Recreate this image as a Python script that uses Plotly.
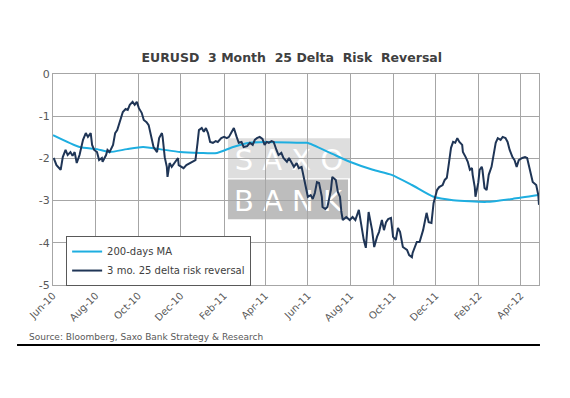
import plotly.graph_objects as go

# 3 mo. 25 delta risk reversal
rr_dates = [
    "2010-06-02", "2010-06-06", "2010-06-12", "2010-06-15", "2010-06-19", "2010-06-22", "2010-06-26", "2010-06-29",
    "2010-07-02", "2010-07-05", "2010-07-09", "2010-07-14", "2010-07-18", "2010-07-21", "2010-07-25", "2010-07-27",
    "2010-07-30", "2010-08-03", "2010-08-06", "2010-08-10", "2010-08-11", "2010-08-16", "2010-08-18", "2010-08-21",
    "2010-08-26", "2010-08-29", "2010-09-01", "2010-09-05", "2010-09-09", "2010-09-13", "2010-09-16", "2010-09-19",
    "2010-09-23", "2010-09-26", "2010-09-29", "2010-10-02", "2010-10-06", "2010-10-09", "2010-10-13", "2010-10-16",
    "2010-10-20", "2010-10-23", "2010-10-28", "2010-10-31", "2010-11-04", "2010-11-05", "2010-11-08", "2010-11-11",
    "2010-11-12", "2010-11-15", "2010-11-18", "2010-11-22", "2010-11-27", "2010-11-28", "2010-12-02", "2010-12-05",
    "2010-12-09", "2010-12-14", "2010-12-18", "2010-12-22", "2010-12-25", "2010-12-27", "2010-12-31", "2011-01-03",
    "2011-01-06", "2011-01-09", "2011-01-12", "2011-01-16", "2011-01-20", "2011-01-23", "2011-01-28", "2011-02-01",
    "2011-02-05", "2011-02-08", "2011-02-12", "2011-02-15", "2011-02-19", "2011-02-22", "2011-02-26", "2011-03-01",
    "2011-03-06", "2011-03-10", "2011-03-14", "2011-03-17", "2011-03-20", "2011-03-24", "2011-03-28", "2011-03-31",
    "2011-04-03", "2011-04-06", "2011-04-10", "2011-04-13", "2011-04-17", "2011-04-20", "2011-04-24", "2011-04-27",
    "2011-05-02", "2011-05-05", "2011-05-09", "2011-05-12", "2011-05-16", "2011-05-19", "2011-05-23", "2011-05-26",
    "2011-05-29", "2011-06-01", "2011-06-05", "2011-06-08", "2011-06-11", "2011-06-14", "2011-06-17", "2011-06-21",
    "2011-06-22", "2011-06-26", "2011-06-29", "2011-07-04", "2011-07-06", "2011-07-11", "2011-07-14", "2011-07-17",
    "2011-07-19", "2011-07-21", "2011-07-26", "2011-07-31", "2011-08-04", "2011-08-08", "2011-08-13", "2011-08-17",
    "2011-08-20", "2011-08-23", "2011-08-24", "2011-08-27", "2011-09-01", "2011-09-04", "2011-09-08", "2011-09-11",
    "2011-09-15", "2011-09-18", "2011-09-21", "2011-09-24", "2011-09-28", "2011-10-01", "2011-10-05", "2011-10-08",
    "2011-10-11", "2011-10-15", "2011-10-21", "2011-10-24", "2011-10-28", "2011-10-29", "2011-11-04", "2011-11-08",
    "2011-11-13", "2011-11-18", "2011-11-21", "2011-11-25", "2011-11-28", "2011-12-03", "2011-12-06", "2011-12-11",
    "2011-12-14", "2011-12-17", "2011-12-20", "2011-12-23", "2011-12-26", "2011-12-29", "2012-01-01", "2012-01-04",
    "2012-01-08", "2012-01-09", "2012-01-13", "2012-01-16", "2012-01-19", "2012-01-22", "2012-01-23", "2012-01-26",
    "2012-01-27", "2012-01-31", "2012-02-02", "2012-02-05", "2012-02-06", "2012-02-09", "2012-02-12", "2012-02-15",
    "2012-02-19", "2012-02-22", "2012-02-25", "2012-02-28", "2012-03-03", "2012-03-06", "2012-03-10", "2012-03-13",
    "2012-03-16", "2012-03-20", "2012-03-23", "2012-03-26", "2012-03-29", "2012-04-03", "2012-04-07", "2012-04-10",
    "2012-04-13", "2012-04-17", "2012-04-18", "2012-04-23", "2012-04-26", "2012-04-27",
]
rr_values = [
    -1.99, -2.16, -2.27, -1.97, -1.80, -1.92, -1.85, -1.94,
    -1.85, -2.11, -1.92, -1.56, -1.40, -1.49, -1.40, -1.68,
    -1.80, -1.85, -2.04, -1.99, -2.08, -1.92, -1.80, -1.85,
    -1.68, -1.40, -1.33, -1.09, -0.90, -0.83, -0.85, -0.73,
    -0.66, -0.73, -0.66, -0.81, -0.92, -1.09, -1.14, -1.21,
    -1.49, -1.73, -1.85, -1.52, -1.40, -1.49, -1.97, -2.20,
    -2.44, -2.11, -2.20, -2.11, -1.99, -2.16, -2.20, -2.23,
    -2.16, -2.11, -2.08, -2.04, -1.63, -1.33, -1.28, -1.37,
    -1.28, -1.40, -1.61, -1.63, -1.59, -1.61, -1.52, -1.49,
    -1.52, -1.49, -1.37, -1.28, -1.49, -1.63, -1.61, -1.73,
    -1.71, -1.63, -1.68, -1.56, -1.52, -1.49, -1.54, -1.68,
    -1.61, -1.63, -1.59, -1.61, -1.80, -1.92, -1.87, -1.99,
    -2.08, -1.99, -2.11, -2.20, -2.11, -2.23, -2.20, -2.44,
    -2.75, -2.91, -2.87, -2.96, -2.82, -2.56, -2.58, -2.91,
    -3.15, -3.20, -3.15, -2.75, -2.44, -2.51, -2.80, -2.91,
    -3.27, -3.46, -3.39, -3.46, -3.39, -3.46, -3.22, -3.63,
    -3.93, -4.12, -3.89, -3.27, -3.70, -4.10, -3.86, -3.74,
    -3.46, -3.70, -3.51, -3.44, -3.41, -3.86, -3.93, -3.65,
    -3.74, -4.10, -4.17, -4.29, -4.34, -4.24, -3.98, -3.98,
    -3.70, -3.29, -3.51, -3.53, -3.06, -2.75, -2.68, -2.63,
    -2.51, -2.46, -2.11, -1.75, -1.61, -1.63, -1.52, -1.61,
    -1.68, -1.85, -1.97, -2.08, -2.27, -2.23, -2.39, -2.68,
    -2.91, -2.58, -2.27, -2.20, -2.27, -2.70, -2.75, -2.39,
    -2.20, -1.87, -1.63, -1.52, -1.56, -1.49, -1.52, -1.61,
    -1.80, -1.97, -2.04, -2.20, -2.04, -1.99, -1.97, -1.99,
    -2.20, -2.46, -2.56, -2.63, -2.87, -3.10,
]

# 200-days MA
ma_dates = [
    "2010-06-01", "2010-07-09", "2010-08-03", "2010-08-21", "2010-09-15", "2010-10-08", "2010-11-01",
    "2010-11-30", "2010-12-29", "2011-01-22", "2011-02-14", "2011-03-10", "2011-04-03", "2011-05-21",
    "2011-05-31", "2011-07-03", "2011-07-31", "2011-09-02", "2011-09-29", "2011-10-28", "2011-11-28",
    "2011-12-26", "2012-02-12", "2012-03-20", "2012-04-26",
]
ma_values = [
    -1.45, -1.73, -1.78, -1.85, -1.78, -1.73, -1.78,
    -1.85, -1.87, -1.87, -1.73, -1.63, -1.61, -1.63,
    -1.63, -1.87, -2.08, -2.27, -2.39, -2.63, -2.91,
    -2.99, -3.03, -2.96, -2.87,
]

y_tick_vals = [0, -1, -2, -3, -4, -5]
y_tick_text = ["0", "-1", "-2", "-3", "-4", "-5"]

title_text = "EURUSD  3 Month  25 Delta  Risk  Reversal"
source_text = "Source: Bloomberg, Saxo Bank Strategy & Research"

grid_col = "#a6a6a6"
txt_col = "#595959"

fig = go.Figure()
fig.add_trace(go.Scatter(
    x=ma_dates, y=ma_values, mode="lines", name="200-days MA",
    line=dict(color="#1eaee0", width=2, shape="spline", smoothing=0.6),
))
fig.add_trace(go.Scatter(
    x=rr_dates, y=rr_values, mode="lines", name="3 mo. 25 delta risk reversal",
    line=dict(color="#1f3556", width=2),
))

# watermark boxes
fig.add_shape(type="rect", xref="paper", yref="y", x0=0.36, x1=0.611, y0=-2.47, y1=-1.52,
              fillcolor="#dedede", line_width=0, layer="between",
              label=dict(text="S A X O", font=dict(size=29, color="white", family="DejaVu Sans")))
fig.add_shape(type="rect", xref="paper", yref="y", x0=0.36, x1=0.607, y0=-3.44, y1=-2.50,
              fillcolor="#bdbdbd", line_width=0, layer="between",
              label=dict(text="B A N K", font=dict(size=29, color="white", family="DejaVu Sans")))

# bottom rule
fig.add_shape(type="line", xref="paper", yref="paper", x0=-0.074, x1=1.002, y0=-0.284, y1=-0.284,
              line=dict(color="black", width=2))

fig.add_annotation(text=source_text, xref="paper", yref="paper", x=-0.0535, y=-0.246,
                   xanchor="left", yanchor="middle", showarrow=False,
                   font=dict(size=9, color=txt_col, family="DejaVu Sans"))

fig.update_layout(
    width=562, height=390,
    margin=dict(l=45, r=31, t=66, b=113),
    paper_bgcolor="white", plot_bgcolor="white",
    title=dict(text="<b>" + title_text + "</b>", x=0.505, xanchor="center", y=0.872, yanchor="middle",
               font=dict(size=12.5, color="#404040", family="DejaVu Sans")),
    font=dict(family="DejaVu Sans", color=txt_col),
    showlegend=True,
    legend=dict(x=0.027, y=0.232, xanchor="left", yanchor="top",
                bordercolor="#595959", borderwidth=1, bgcolor="white",
                font=dict(size=10, color="#404040"), tracegroupgap=0, itemwidth=30),
    xaxis=dict(
        type="date", range=["2010-06-01", "2012-04-27"],
        tick0="2010-06-01", dtick="M2", tickformat="%b-%y", tickangle=-45,
        showgrid=True, gridcolor=grid_col, gridwidth=1,
        showline=True, linecolor=grid_col, mirror=True, ticks="",
        tickfont=dict(size=10, color=txt_col), zeroline=False,
    ),
    yaxis=dict(
        range=[-5, 0], tickmode="array", tickvals=y_tick_vals, ticktext=y_tick_text,
        showgrid=True, gridcolor=grid_col, gridwidth=1,
        showline=True, linecolor=grid_col, mirror=True, ticks="",
        tickfont=dict(size=11, color=txt_col), zeroline=False,
    ),
)

fig.write_html("out.html")
